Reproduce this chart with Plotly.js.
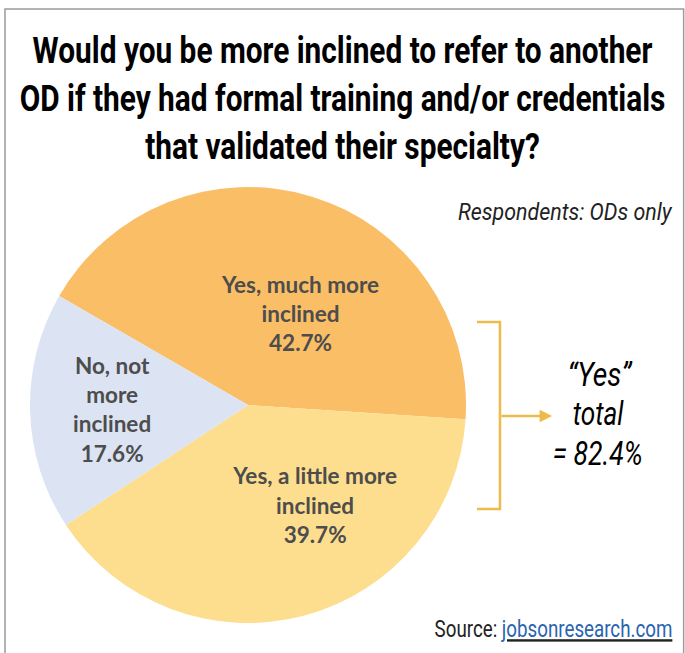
<!DOCTYPE html>
<html>
<head>
<meta charset="utf-8">
<script src="https://cdn.plot.ly/plotly-3.0.1.min.js"></script>
<style>html,body{margin:0;padding:0;background:#fff;}#chart{width:685px;height:653px;}</style>
</head>
<body>
<div id="chart"></div>
<script>
const categories = ["Yes, much more inclined", "Yes, a little more inclined", "No, not more inclined"];
const sliceLabels = ["Yes, much more<br>inclined", "Yes, a little more<br>inclined", "No, not<br>more<br>inclined"];
const values = [42.7, 39.7, 17.6];
const sliceColors = ["#F9BE66", "#FDDE8E", "#DCE3F3"];
const yesTotal = 82.4;
const titleText = "Would you be more inclined to refer to another<br>OD if they had formal training and/or credentials<br>that validated their specialty?";

const cond = "Roboto, sans-serif";
const gold = "#EDBA4C";
// label nudges (px) to match the original label placement
const labelNudge = [[20, 14], [38, -8], [7, 0]];

const trace = {
  type: "pie",
  labels: categories,
  values: values,
  text: sliceLabels,
  sort: false,
  direction: "clockwise",
  rotation: -60,
  marker: {colors: sliceColors, line: {width: 0}},
  textinfo: "text",
  texttemplate: "%{text}<br>%{value:.1f}%",
  textposition: "inside",
  insidetextorientation: "horizontal",
  textfont: {family: "Lato, Open Sans, sans-serif", size: 22.5, color: "#4d4d4d", weight: "bold"},
  hoverinfo: "label+value",
  showlegend: false,
  domain: {x: [0.0438, 0.6803], y: [0.0459, 0.7136]}
};

const layout = {
  width: 685, height: 653,
  margin: {l: 0, r: 0, t: 0, b: 0},
  paper_bgcolor: "#fff",
  showlegend: false,
  title: {text: titleText, font: {family: cond, size: 37, color: "#000", weight: "bold"}, x: 0.5, xanchor: "center", y: 0.904, yanchor: "middle"},
  shapes: [
    {type: "rect", xref: "paper", yref: "paper", x0: 0.0073, x1: 0.998, y0: -0.02, y1: 0.9862, line: {color: "#9a9a9a", width: 1.5}},
    {type: "path", xref: "paper", yref: "paper", path: "M 0.6964 0.5069 L 0.7299 0.5069 L 0.7299 0.2205 L 0.6964 0.2205", line: {color: gold, width: 2.5}}
  ],
  annotations: [
    {xref: "paper", yref: "paper", x: 0.985, y: 1 - 212/653, xanchor: "right", yanchor: "middle", showarrow: false,
     text: "<i>Respondents: ODs only</i>", font: {family: cond, size: 23, color: "#222"}},
    {xref: "paper", yref: "paper", x: 0.876, y: 1 - 374/653, xanchor: "center", yanchor: "middle", showarrow: false,
     text: "<i>“Yes”</i>", font: {family: cond, size: 33, color: "#000"}},
    {xref: "paper", yref: "paper", x: 0.873, y: 1 - 413/653, xanchor: "center", yanchor: "middle", showarrow: false,
     text: "<i>total</i>", font: {family: cond, size: 33, color: "#000"}},
    {xref: "paper", yref: "paper", x: 0.873, y: 1 - 453/653, xanchor: "center", yanchor: "middle", showarrow: false,
     text: "<i>= " + yesTotal.toFixed(1) + "%</i>", font: {family: cond, size: 33, color: "#000"}},
    {xref: "paper", yref: "paper", x: 0.806, y: 1 - 416/653, ax: 0.7299, ay: 1 - 416/653, axref: "paper", ayref: "paper",
     text: "", showarrow: true, arrowhead: 2, arrowsize: 1, arrowwidth: 2.5, arrowcolor: gold},
    {xref: "paper", yref: "paper", x: 0.985, y: 1 - 629/653, xanchor: "right", yanchor: "middle", showarrow: false,
     text: "Source: <u><span style='color:#2b64b0'>jobsonresearch.com</span></u>", font: {family: cond, size: 24, color: "#222"}}
  ]
};

function squeeze(el, targetW, anchor, sy) {
  if (!el) return;
  const bb = el.getBBox();
  if (!bb.width) return;
  const sx = targetW / bb.width;
  const ax = anchor === "right" ? bb.x + bb.width : (anchor === "left" ? bb.x : bb.x + bb.width / 2);
  const ay = bb.y + bb.height / 2;
  const prev = el.getAttribute("transform") || "";
  el.setAttribute("transform", prev + " translate(" + ax + "," + ay + ") scale(" + sx + "," + (sy || 1) + ") translate(" + (-ax) + "," + (-ay) + ")");
}
function ann(i) { return document.querySelector('g.annotation[data-index="' + i + '"] text.annotation-text'); }

Plotly.newPlot("chart", [trace], layout, {displayModeBar: false, staticPlot: true}).then(function () {
  squeeze(document.querySelector(".gtitle"), 646, "center", 1);
  squeeze(ann(0), 215, "right", 1.05);
  squeeze(ann(1), 65, "center", 1);
  squeeze(ann(2), 51, "center", 1);
  squeeze(ann(3), 90, "center", 1);
  squeeze(ann(5), 238, "right", 1);
  document.querySelectorAll("g.slice").forEach(function (g, i) {
    const t = g.querySelector("text.slicetext");
    if (!t || !labelNudge[i]) return;
    const prev = t.getAttribute("transform") || "";
    t.setAttribute("transform", "translate(" + labelNudge[i][0] + "," + labelNudge[i][1] + ") " + prev);
  });
});
</script>
</body>
</html>
